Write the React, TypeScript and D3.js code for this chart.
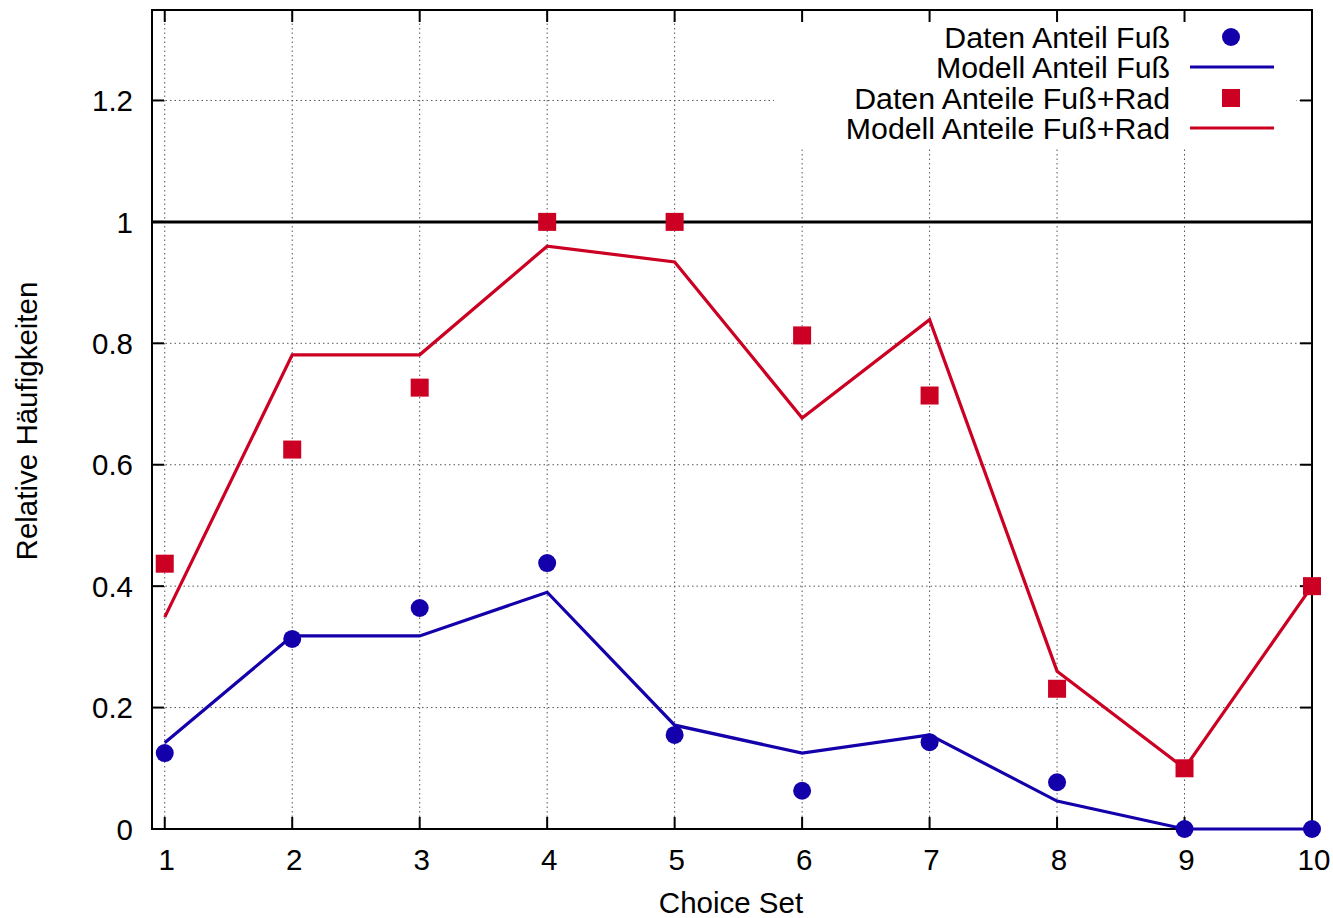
import React from "react";
import * as d3 from "d3";

const choiceSets = [1, 2, 3, 4, 5, 6, 7, 8, 9, 10];
const datenFuss = [0.125, 0.313, 0.364, 0.438, 0.155, 0.063, 0.143, 0.077, 0, 0];
const modellFuss = [0.142, 0.318, 0.318, 0.39, 0.171, 0.125, 0.155, 0.046, 0, 0];
const datenFussRad = [0.437, 0.625, 0.727, 1, 1, 0.813, 0.714, 0.231, 0.1, 0.4];
const modellFussRad = [0.349, 0.781, 0.781, 0.96, 0.934, 0.677, 0.839, 0.26, 0.1, 0.4];
const yTicks = [0, 0.2, 0.4, 0.6, 0.8, 1, 1.2];
const yTickLabels = ["0", "0.2", "0.4", "0.6", "0.8", "1", "1.2"];
const legendLabels = [
  "Daten Anteil Fuß",
  "Modell Anteil Fuß",
  "Daten Anteile Fuß+Rad",
  "Modell Anteile Fuß+Rad",
];

const BLUE = "#1400aa";
const RED = "#cc0022";
const FONT = "'Liberation Sans', Arial, Helvetica, sans-serif";
const FS = 29.5;
const LFS = 30.3;

export default function App() {
  const W = 1333;
  const H = 918;
  const left = 152;
  const right = 1312;
  const top = 10;
  const bottom = 829;

  const x = d3.scaleLinear().domain([0.9, 10]).range([left, right]);
  const y = d3.scaleLinear().domain([0, 1.349]).range([bottom, top]);

  const line = (vals: number[]) =>
    d3
      .line<number>()
      .x((_, i) => x(choiceSets[i]))
      .y((v) => y(v))(vals) || "";

  const tickLen = 12;
  const gridStyle = { stroke: "#555", strokeWidth: 1, strokeDasharray: "1.5,3" };

  const legendY = [37, 67, 98, 128];
  const legendTextX = 1170;
  const sampleX0 = 1190;
  const sampleX1 = 1274;
  const sampleCX = 1231;

  return (
    <svg width={W} height={H} style={{ position: "absolute", left: 0, top: 0, background: "#fff" }}>
      <rect x={0} y={0} width={W} height={H} fill="#fff" />
      {/* grid */}
      {yTicks.map((t) => (
        <line key={"gy" + t} x1={left} x2={right} y1={y(t)} y2={y(t)} style={gridStyle} />
      ))}
      {choiceSets.map((c) => (
        <line key={"gx" + c} x1={x(c)} x2={x(c)} y1={top} y2={bottom} style={gridStyle} />
      ))}
      {/* legend background */}
      <rect x={774} y={13} width={522} height={134} fill="#fff" />
      {/* y = 1 reference line */}
      <line x1={left} x2={right} y1={y(1)} y2={y(1)} stroke="#000" strokeWidth={3} />
      {/* ticks */}
      {yTicks.map((t) => (
        <g key={"ty" + t}>
          <line x1={left} x2={left + tickLen} y1={y(t)} y2={y(t)} stroke="#000" strokeWidth={2} />
          <line x1={right} x2={right - tickLen} y1={y(t)} y2={y(t)} stroke="#000" strokeWidth={2} />
        </g>
      ))}
      {choiceSets.map((c) => (
        <g key={"tx" + c}>
          <line x1={x(c)} x2={x(c)} y1={bottom} y2={bottom - tickLen} stroke="#000" strokeWidth={2} />
          <line x1={x(c)} x2={x(c)} y1={top} y2={top + tickLen} stroke="#000" strokeWidth={2} />
        </g>
      ))}
      {/* border */}
      <rect x={left} y={top} width={right - left} height={bottom - top} fill="none" stroke="#000" strokeWidth={2} />
      {/* tick labels */}
      {yTicks.map((t, i) => (
        <text
          key={"ly" + t}
          x={133}
          y={y(t)}
          dy="0.36em"
          textAnchor="end"
          fontFamily={FONT}
          fontSize={FS}
          fill="#000"
        >
          {yTickLabels[i]}
        </text>
      ))}
      {choiceSets.map((c) => (
        <text
          key={"lx" + c}
          x={x(c) + 2}
          y={870}
          textAnchor="middle"
          fontFamily={FONT}
          fontSize={FS}
          fill="#000"
        >
          {c}
        </text>
      ))}
      <text x={731} y={913} textAnchor="middle" fontFamily={FONT} fontSize={FS} fill="#000">
        Choice Set
      </text>
      <text
        transform={`translate(37, 421) rotate(-90)`}
        textAnchor="middle"
        fontFamily={FONT}
        fontSize={FS}
        fill="#000"
      >
        Relative Häufigkeiten
      </text>
      {/* model lines */}
      <path d={line(modellFuss)} fill="none" stroke={BLUE} strokeWidth={3.2} />
      <path d={line(modellFussRad)} fill="none" stroke={RED} strokeWidth={3.2} />
      {/* data points */}
      {datenFuss.map((v, i) => (
        <circle key={"df" + i} cx={x(choiceSets[i])} cy={y(v)} r={9} fill={BLUE} />
      ))}
      {datenFussRad.map((v, i) => (
        <rect key={"dr" + i} x={x(choiceSets[i]) - 9} y={y(v) - 9} width={18} height={18} fill={RED} />
      ))}
      {/* legend */}
      {legendLabels.map((l, i) => (
        <text
          key={"leg" + i}
          x={legendTextX}
          y={legendY[i]}
          dy="0.36em"
          textAnchor="end"
          fontFamily={FONT}
          fontSize={LFS}
          fill="#000"
        >
          {l}
        </text>
      ))}
      <circle cx={sampleCX} cy={legendY[0]} r={9} fill={BLUE} />
      <line x1={sampleX0} x2={sampleX1} y1={legendY[1]} y2={legendY[1]} stroke={BLUE} strokeWidth={3.2} />
      <rect x={sampleCX - 9} y={legendY[2] - 9} width={18} height={18} fill={RED} />
      <line x1={sampleX0} x2={sampleX1} y1={legendY[3]} y2={legendY[3]} stroke={RED} strokeWidth={3.2} />
    </svg>
  );
}
